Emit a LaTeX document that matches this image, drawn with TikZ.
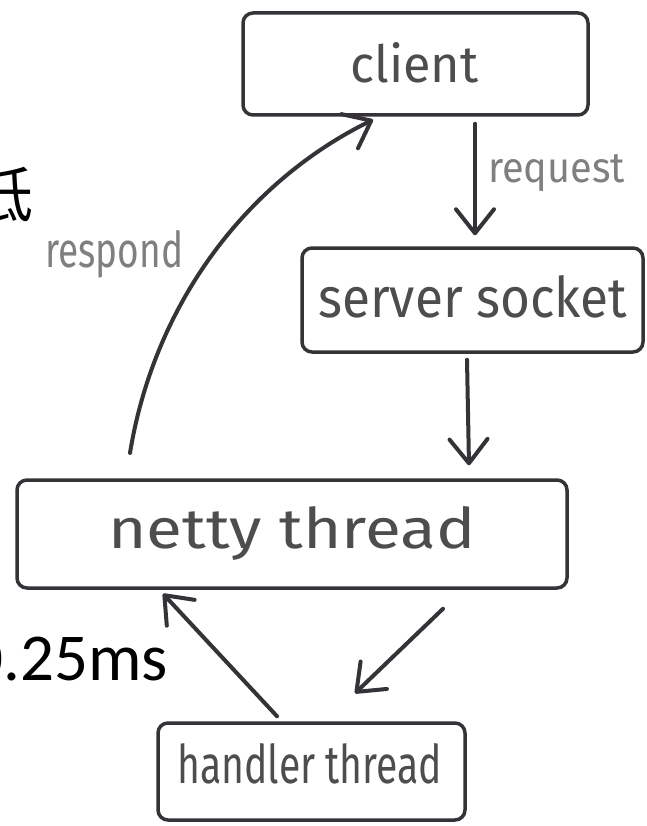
\documentclass[tikz,border=0pt]{standalone}
\usepackage{fontspec}
\usetikzlibrary{arrows.meta,calc}
\newfontfamily\handfont{Fira Sans}
\newfontfamily\calfont{Carlito}
\newfontfamily\cjkfont{Noto Sans CJK SC}
\definecolor{ink}{HTML}{353238}
\definecolor{boxtext}{HTML}{4D4D4D}
\definecolor{labeltext}{HTML}{7F7F7F}
\newcommand\fitbox[3]{\resizebox{#1pt}{#2pt}{\handfont #3}}
\begin{document}
\begin{tikzpicture}[x=1pt,y=-1pt,
  box/.style={draw=ink, line width=3.5pt, rounded corners=10pt, inner sep=0pt},
  arr/.style={draw=ink, line width=4pt, line cap=round,
    -{Straight Barb[length=24pt,width=38pt,round]}},
  boxlabel/.style={text=boxtext, inner sep=0pt, anchor=base west},
  note/.style={text=labeltext, inner sep=0pt, anchor=base west},
  bigtext/.style={text=black, inner sep=0pt, anchor=base east}]
\fill[white] (0,0) rectangle (646,826);
\useasboundingbox (0,0) rectangle (646,826);
\clip (0,0) rectangle (646,826);
% boxes
\node[box, minimum width=345pt, minimum height=102pt] (client) at (415.5,64) {};
\node[box, minimum width=341pt, minimum height=104pt] (server) at (472.5,300) {};
\node[box, minimum width=550pt, minimum height=108pt] (netty) at (292,534) {};
\node[box, minimum width=307pt, minimum height=97pt] (handler) at (311.5,771.5) {};
% box texts
\node[boxlabel] (tclient) at (350,83) {\fitbox{128}{40}{client}};
\node[boxlabel] (tserver) at (318,317) {\fitbox{309}{42}{server socket}};
\node[boxlabel] (tnetty) at (108,548) {\fitbox{367}{42}{netty thread}};
\node[boxlabel] (thandler) at (177,783) {\fitbox{265}{40}{handler thread}};
% labels
\node[note] (treq) at (488,183) {\fitbox{137}{28}{request}};
\node[note] (tresp) at (45,267) {\fitbox{138}{37}{respond}};
\node[bigtext, font=\calfont\fontsize{67}{67}\selectfont] (latency) at (168,680) {0.25ms};
\node[bigtext, font=\cjkfont\fontsize{60}{60}\selectfont] (low) at (34,218) {低};
% connectors
\draw[arr] ($(client.south)+(59.5,7)$) -- ($(server.north)+(2.5,-11)$);
\draw[arr] ($(server.south)+(-5.5,6)$) -- ($(netty.north)+(177,-13)$);
\coordinate (resptail) at (130,453);
\draw[arr] (resptail) .. controls (155,300) and (250,180) .. ($(client.south)+(-42.5,3)$);
\draw[arr] ($(handler.north)+(-34.5,-5)$) -- ($(netty.south)+(-129,4)$);
\draw[arr] ($(netty.south)+(151,19)$) -- ($(handler.north)+(43.5,-28)$);
\end{tikzpicture}
\end{document}
